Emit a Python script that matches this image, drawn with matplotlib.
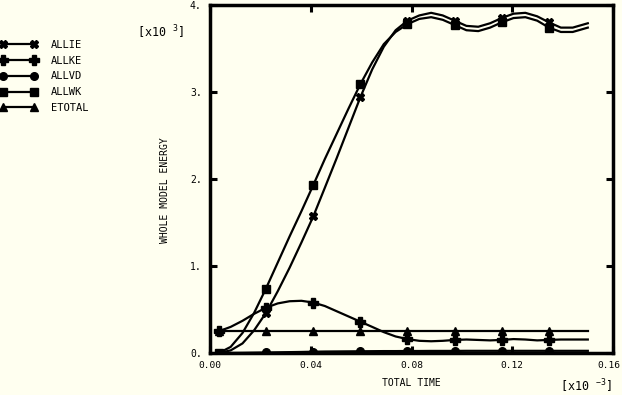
import matplotlib
matplotlib.use('Agg')
import matplotlib.pyplot as plt
from matplotlib.transforms import ScaledTranslation

plt.rcParams['font.family'] = ['DejaVu Sans Mono']
plt.rcParams['mathtext.default'] = 'regular'

# total time [x1e-3]
time = [0.0035, 0.0082, 0.0129, 0.0175, 0.0222, 0.0269, 0.0316, 0.0363,
        0.0410, 0.0456, 0.0503, 0.0550, 0.0597, 0.0644, 0.0690, 0.0737,
        0.0784, 0.0831, 0.0878, 0.0924, 0.0971, 0.1018, 0.1065, 0.1112,
        0.1158, 0.1205, 0.1252, 0.1299, 0.1346, 0.1393, 0.1440, 0.1500]

# energies [x1e3]
allie = [0.00, 0.03, 0.11, 0.26, 0.46, 0.71, 0.98, 1.27,
         1.57, 1.90, 2.24, 2.59, 2.94, 3.26, 3.52, 3.71,
         3.82, 3.88, 3.91, 3.88, 3.82, 3.76, 3.75, 3.79,
         3.85, 3.90, 3.91, 3.87, 3.80, 3.74, 3.74, 3.79]
allke = [0.25, 0.30, 0.37, 0.45, 0.52, 0.57, 0.595, 0.60,
         0.58, 0.54, 0.48, 0.42, 0.36, 0.30, 0.24, 0.19,
         0.16, 0.14, 0.135, 0.14, 0.15, 0.155, 0.15, 0.145,
         0.15, 0.16, 0.155, 0.145, 0.15, 0.155, 0.155, 0.155]
allvd = [0.00, 0.001, 0.002, 0.004, 0.006, 0.008, 0.010, 0.012,
         0.015, 0.017, 0.018, 0.019, 0.020, 0.021, 0.022, 0.022,
         0.023, 0.023, 0.024, 0.024, 0.024, 0.025, 0.025, 0.025,
         0.025, 0.025, 0.025, 0.025, 0.025, 0.025, 0.025, 0.025]
allwk = [0.00, 0.07, 0.23, 0.46, 0.74, 1.04, 1.34, 1.63,
         1.93, 2.23, 2.52, 2.81, 3.09, 3.34, 3.55, 3.69,
         3.78, 3.84, 3.86, 3.83, 3.77, 3.71, 3.70, 3.74,
         3.80, 3.85, 3.86, 3.82, 3.74, 3.69, 3.69, 3.74]
etotal = [0.25, 0.25, 0.25, 0.25, 0.25, 0.25, 0.25, 0.25,
          0.25, 0.25, 0.25, 0.25, 0.25, 0.25, 0.25, 0.25,
          0.25, 0.25, 0.25, 0.25, 0.25, 0.25, 0.25, 0.25,
          0.25, 0.25, 0.25, 0.25, 0.25, 0.25, 0.25, 0.25]

names = ['ALLIE', 'ALLKE', 'ALLVD', 'ALLWK', 'ETOTAL']
xticks = [0.00, 0.04, 0.08, 0.12, 0.16]
xticklabels = ['0.00', '0.04', '0.08', '0.12', '0.16']
yticks = [0, 1, 2, 3, 4]
yticklabels = ['0.', '1.', '2.', '3.', '4.']

bg = '#fffff0'
fig = plt.figure(figsize=(6.22, 3.95), dpi=100, facecolor=bg)
ax = fig.add_axes([210/622, 1-353/395, 403/622, 348/395], facecolor=bg)

series = [allie, allke, allvd, allwk, etotal]
markers = ['X', 'P', 'o', 's', '^']
msizes = [6, 6.5, 5.5, 5.5, 6]
for s, name, m, ms in zip(series, names, markers, msizes):
    ax.plot(time, s, color='black', lw=1.6, marker=m, ms=ms,
            markevery=slice(0, 29, 4), label=name)

ax.set_xlim(0, 0.16)
ax.set_ylim(0, 4)
ax.set_xticks(xticks)
ax.set_xticklabels(xticklabels, fontsize=6.8)
ax.set_yticks(yticks)
ax.set_yticklabels(yticklabels, fontsize=7)
ax.tick_params(direction='in', length=5, width=2.2, top=True, right=True, pad=6)
for sp in ax.spines.values():
    sp.set_linewidth(2.5)

# keep last x tick label inside the figure
last = ax.get_xticklabels()[-1]
last.set_transform(last.get_transform() + ScaledTranslation(-4/100, 0, fig.dpi_scale_trans))

fig.text(411/622, 1-383/395, 'TOTAL TIME', fontsize=7, ha='center', va='center')
fig.text(165/622, 1-190/395, 'WHOLE MODEL ENERGY', fontsize=7, rotation=90,
         ha='center', va='center')
fig.text(137/622, 1-32/395, '[x10 $^{3}$]', fontsize=8.5, ha='left', va='center')
fig.text(560/622, 1-386/395, '[x10 $^{-3}$]', fontsize=8.5, ha='left', va='center')

fig.legend(loc='upper left', bbox_to_anchor=(0, 1-40/395), numpoints=2,
           handlelength=3.6, handletextpad=1.3, labelspacing=0.55,
           borderpad=0, borderaxespad=0, frameon=False, fontsize=7.5)

fig.savefig('out.png', dpi=100, facecolor=bg)
